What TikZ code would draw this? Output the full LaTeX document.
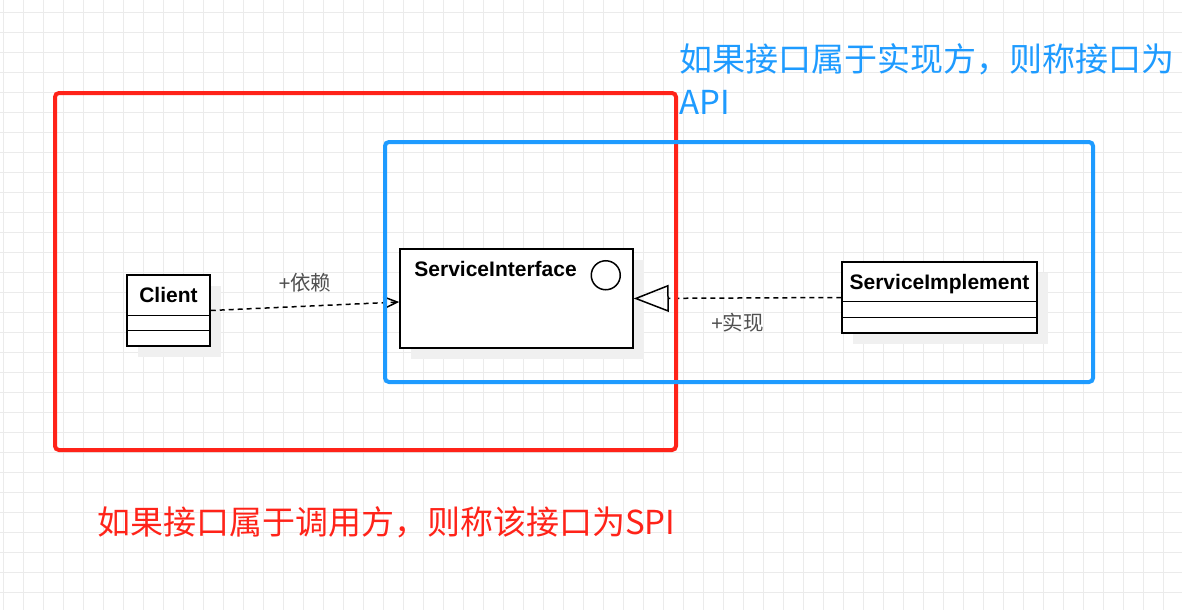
\documentclass[tikz,border=0pt]{standalone}
\usepackage{fontspec}
\setmainfont{Liberation Sans}
\newfontfamily\cjk{Noto Sans CJK SC}
\usetikzlibrary{arrows.meta,calc,shadows}

\definecolor{apiblue}{RGB}{30,155,255}
\definecolor{spired}{RGB}{255,35,25}
\definecolor{gridgray}{RGB}{235,235,235}
\definecolor{shadowgray}{RGB}{240,240,240}
\definecolor{labelgray}{RGB}{80,80,80}

\tikzset{
  umlbox/.style={draw=black, line width=1.5pt, fill=white, inner sep=0pt,
    drop shadow={shadow xshift=11pt, shadow yshift=-11pt, fill=shadowgray, opacity=1}},
  umlname/.style={font=\fontsize{21}{24}\selectfont\bfseries, inner sep=0pt},
  umlline/.style={line width=1.5pt, dash pattern=on 5pt off 4pt},
  edgelabel/.style={font=\fontsize{20.5}{24}\selectfont, text=labelgray, inner sep=0pt},
  zone/.style={line width=4pt, rounded corners=4pt},
}

\begin{document}
\begin{tikzpicture}[x=1pt,y=-1pt]
    \useasboundingbox (0,0) rectangle (1182,610);
    % Arka plan ve izgara
    \fill[white] (0,0) rectangle (1182,610);
    \foreach \gx in {3.3,23.3,...,1182} \draw[gridgray, line width=1pt] (\gx,0) -- (\gx,610);
    \foreach \gy in {12.3,32.3,...,610} \draw[gridgray, line width=1pt] (0,\gy) -- (1182,\gy);

    % Siniflar
    \node[umlbox, minimum width=83pt, minimum height=71pt] (client) at (168.5,310.5) {};
    \node[umlname, anchor=base] (clientname) at ($(client.north)+(0,28)$) {Client};
    \draw[line width=1.5pt] ($(client.north west)+(0,41)$) -- ($(client.north east)+(0,41)$);
    \draw[line width=1.5pt] ($(client.north west)+(0,56)$) -- ($(client.north east)+(0,56)$);

    \node[umlbox, minimum width=233pt, minimum height=99pt] (si) at (516.5,298.5) {};
    \node[umlname, anchor=base west] (siname) at ($(si.north west)+(15,28)$) {ServiceInterface};
    \node[draw, circle, line width=1.5pt, minimum size=29pt, inner sep=0pt] (sicircle) at ($(si.north east)+(-28,27)$) {};

    \node[umlbox, minimum width=195pt, minimum height=71pt] (impl) at (939.5,297.5) {};
    \node[umlname, anchor=base] (implname) at ($(impl.north)+(0,28)$) {ServiceImplement};
    \draw[line width=1.5pt] ($(impl.north west)+(0,40)$) -- ($(impl.north east)+(0,40)$);
    \draw[line width=1.5pt] ($(impl.north west)+(0,56)$) -- ($(impl.north east)+(0,56)$);

    % Baglantilar
    \draw[umlline, -{Straight Barb[length=14pt, width=12pt, line width=1.5pt]}]
        (client.east) -- ($(si.west)+(0,3.5)$)
        node[edgelabel, midway, yshift=24pt] {+{\cjk 依赖}};
    \draw[umlline, -{Triangle[open, length=35pt, width=27pt, line width=1.5pt]}]
        (impl.west) -- (si.east)
        node[edgelabel, midway, yshift=-25pt] {+{\cjk 实现}};

    % Alanlar
    \draw[zone, spired] (55,93) rectangle (676,450);
    \draw[zone, apiblue] (385,142) rectangle (1093,382);

    % Metinler
    \node[anchor=north west, inner sep=0pt, align=left, text=apiblue,
          font=\cjk\fontsize{33}{43}\selectfont] (apitext) at (679,43)
        {如果接口属于实现方，则称接口为\\API};
    \node[anchor=base west, inner sep=0pt, text=spired,
          font=\cjk\fontsize{33}{43}\selectfont] (spitext) at (97,534)
        {如果接口属于调用方，则称该接口为SPI};
\end{tikzpicture}
\end{document}
